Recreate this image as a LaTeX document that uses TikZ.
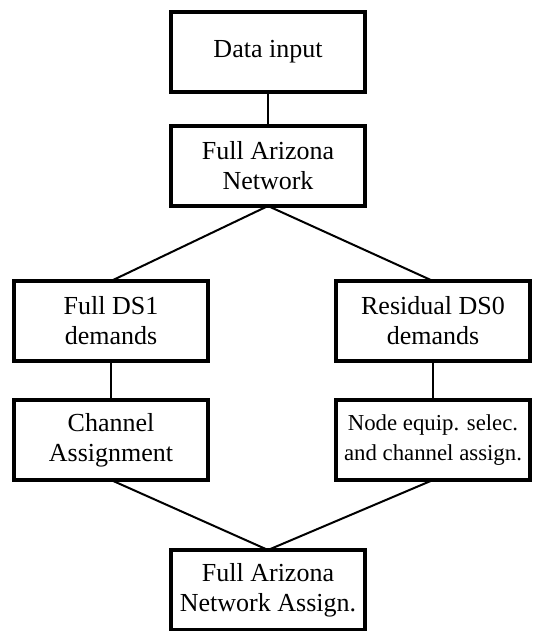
\documentclass[tikz,border=0pt]{standalone}
\usepackage{fontspec}
\setmainfont{Liberation Serif}
\begin{document}
\begin{tikzpicture}[x=0.5pt,y=-0.5pt,
  blk/.style={draw=black, line width=2pt, fill=white, minimum width=97pt, minimum height=40pt,
    inner sep=0pt, outer sep=0pt, align=center, font=\fontsize{13}{15}\selectfont},
  small/.style={font=\fontsize{11.4}{15}\selectfont},
  conn/.style={line width=1pt, black}]
\useasboundingbox (0,0) rectangle (532,631);
\node[blk] (d)   at (268,52)  {Data input};
\node[blk] (n)   at (268,166) {Full Arizona\\Network};
\node[blk] (ds1) at (111,321) {Full DS1\\demands};
\node[blk] (ds0) at (433,321) {Residual DS0\\demands};
\node[blk] (ch)  at (111,440) {Channel\\Assignment};
\node[blk,small] (ne)  at (433,440) {Node equip. selec.\\and channel assign.};
\node[blk] (fa)  at (268,590) {Full Arizona\\Network Assign.};
\draw[conn] (d.south) -- (n.north);
\draw[conn] (n.south) -- (ds1.north);
\draw[conn] (n.south) -- (ds0.north);
\draw[conn] (ds1.south) -- (ch.north);
\draw[conn] (ds0.south) -- (ne.north);
\draw[conn] (ch.south) -- (fa.north);
\draw[conn] (ne.south) -- (fa.north);
\end{tikzpicture}
\end{document}
